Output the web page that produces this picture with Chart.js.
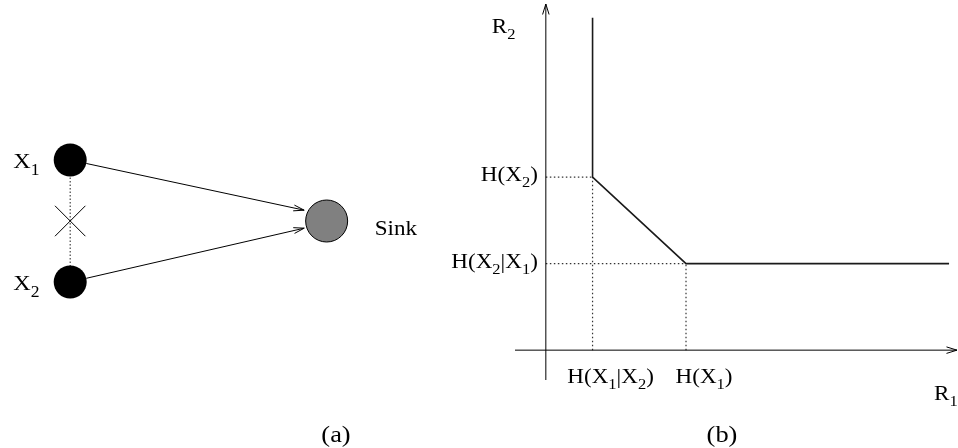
<!DOCTYPE html>
<html>
<head>
<meta charset="utf-8">
<script src="https://cdn.jsdelivr.net/npm/chart.js@4/dist/chart.umd.min.js"></script>
<style>
  html, body { margin: 0; padding: 0; background: #fff; }
  #wrap { position: relative; width: 958px; height: 448px; }
  #wrap canvas { position: absolute; left: 0; top: 0; }
</style>
</head>
<body>
<div id="wrap">
  <canvas id="netChart" width="958" height="448"></canvas>
  <canvas id="rateChart" width="958" height="448"></canvas>
</div>
<script>
// ---- panel (a): two correlated sources sending to one sink ----
var sourceNames = ['X_1', 'X_2'];
var sourceX = [0, 0];
var sourceY = [1, -1];
var sinkName = 'Sink';
var sinkX = [1];
var sinkY = [0];

// ---- panel (b): Slepian-Wolf rate region ----
var rateTickX = [1, 3];                       // H(X1|X2), H(X1)
var rateTickXLabels = ['H(X_1|X_2)', 'H(X_1)'];
var rateTickY = [2, 4];                       // H(X2|X1), H(X2)
var rateTickYLabels = ['H(X_2|X_1)', 'H(X_2)'];
var rateAxisX = [-0.66, 8.8];
var rateAxisY = [-0.69, 8.0];
var regionEnd = [8.63, 7.68];                 // boundary stops here on R1 / R2

var FONT = '"Liberation Serif", "Times New Roman", serif';
var STRETCH = 1.1;   // the original lettering is a bit wide

// text with single-char subscripts written as _1
function drawSub(ctx, txt, x, y, align, size) {
  var parts = txt.split(/(_\w)/).filter(Boolean);
  var big = size + 'px ' + FONT;
  var small = Math.round(size * 0.72) + 'px ' + FONT;
  var w = 0;
  parts.forEach(function(p) {
    var sub = p[0] === '_';
    ctx.font = sub ? small : big;
    w += ctx.measureText(sub ? p.slice(1) : p).width;
  });
  var left = align === 'right' ? x - w * STRETCH : align === 'center' ? x - w * STRETCH / 2 : x;
  ctx.save();
  ctx.translate(left, y);
  ctx.scale(STRETCH, 1);
  ctx.fillStyle = '#000';
  ctx.textAlign = 'left';
  ctx.textBaseline = 'alphabetic';
  var cx = 0;
  parts.forEach(function(p) {
    var sub = p[0] === '_';
    var t = sub ? p.slice(1) : p;
    ctx.font = sub ? small : big;
    ctx.fillText(t, cx, sub ? size * 0.3 : 0);
    cx += ctx.measureText(t).width;
  });
  ctx.restore();
}

function arrowHead(ctx, x0, y0, x1, y1, len, half) {
  var a = Math.atan2(y1 - y0, x1 - x0);
  ctx.beginPath();
  ctx.moveTo(x1 - len * Math.cos(a - half), y1 - len * Math.sin(a - half));
  ctx.lineTo(x1, y1);
  ctx.lineTo(x1 - len * Math.cos(a + half), y1 - len * Math.sin(a + half));
  ctx.stroke();
}

var baseOpts = {
  responsive: false,
  animation: false,
  events: [],
  plugins: { legend: { display: false }, tooltip: { enabled: false } }
};

// ---------------- panel (a) ----------------
var srcR = 16.5, sinkR = 21;
var netPlugin = {
  id: 'netPlugin',
  afterDatasetsDraw: function(chart) {
    var ctx = chart.ctx, xs = chart.scales.x, ys = chart.scales.y;
    var tx = xs.getPixelForValue(sinkX[0]), ty = ys.getPixelForValue(sinkY[0]);
    ctx.save();
    ctx.strokeStyle = '#000';
    ctx.lineWidth = 1;
    sourceX.forEach(function(v, i) {
      var sx = xs.getPixelForValue(v), sy = ys.getPixelForValue(sourceY[i]);
      var aim = ty - (sourceY[i] > 0 ? 6 : -2);
      var d = Math.hypot(tx - sx, aim - sy), ux = (tx - sx) / d, uy = (aim - sy) / d;
      var x0 = sx + ux * srcR, y0 = sy + uy * srcR;
      var x1 = tx - ux * (sinkR + 2), y1 = aim - uy * (sinkR + 2);
      ctx.beginPath();
      ctx.moveTo(x0, y0);
      ctx.lineTo(x1, y1);
      ctx.stroke();
      arrowHead(ctx, x0, y0, x1, y1, 11, 0.27);
      drawSub(ctx, sourceNames[i], sx - 57, sy + 8, 'left', 22);
    });
    ctx.restore();
    drawSub(ctx, sinkName, tx + 48, ty + 14, 'left', 21);
    drawSub(ctx, '(a)', 336, 442, 'center', 24);
  }
};

new Chart(document.getElementById('netChart'), {
  type: 'scatter',
  data: {
    datasets: [
      {
        data: sourceX.map(function(v, i) { return { x: v, y: sourceY[i] }; }),
        pointRadius: srcR, pointBackgroundColor: '#000', pointBorderColor: '#000', pointBorderWidth: 0
      },
      {
        data: sinkX.map(function(v, i) { return { x: v, y: sinkY[i] }; }),
        pointRadius: sinkR, pointBackgroundColor: '#808080', pointBorderColor: '#000', pointBorderWidth: 1
      },
      {
        data: [{ x: (sourceX[0] + sourceX[1]) / 2, y: (sourceY[0] + sourceY[1]) / 2 }],
        pointStyle: 'crossRot', pointRadius: 21.5, pointBorderColor: '#000', pointBorderWidth: 1
      },
      {
        data: sourceX.map(function(v, i) { return { x: v, y: sourceY[i] }; }),
        showLine: true, pointRadius: 0, borderColor: '#444', borderWidth: 1.2, borderDash: [1.5, 2]
      }
    ]
  },
  options: Object.assign({}, baseOpts, {
    layout: { padding: { left: 20, right: 518, top: 100, bottom: 108 } },
    scales: {
      x: { type: 'linear', display: false, min: -0.186, max: 1.442 },
      y: { type: 'linear', display: false, min: -1.951, max: 1.984 }
    }
  }),
  plugins: [netPlugin]
});

// ---------------- panel (b) ----------------
function seg(x0, y0, x1, y1) { return [{ x: x0, y: y0 }, { x: x1, y: y1 }]; }
var dotted = { showLine: true, pointRadius: 0, borderColor: '#333', borderWidth: 1.2, borderDash: [1.5, 2.5], clip: false };
var solid = { showLine: true, pointRadius: 0, borderColor: '#000', borderWidth: 1, clip: false };

var ratePlugin = {
  id: 'ratePlugin',
  afterDatasetsDraw: function(chart) {
    var ctx = chart.ctx, xs = chart.scales.x, ys = chart.scales.y;
    var ox = xs.getPixelForValue(0), oy = ys.getPixelForValue(0);
    ctx.save();
    ctx.strokeStyle = '#000';
    ctx.lineWidth = 1;
    arrowHead(ctx, ox, oy, ox, ys.getPixelForValue(rateAxisY[1]), 11, 0.3);
    arrowHead(ctx, ox, oy, xs.getPixelForValue(rateAxisX[1]), oy, 11, 0.3);
    ctx.restore();
    rateTickX.forEach(function(v, i) {
      drawSub(ctx, rateTickXLabels[i], xs.getPixelForValue(v) + 18, oy + 33, 'center', 21);
    });
    rateTickY.forEach(function(v, i) {
      drawSub(ctx, rateTickYLabels[i], ox - 8, ys.getPixelForValue(v) + 4, 'right', 21);
    });
    drawSub(ctx, 'R_1', xs.getPixelForValue(rateAxisX[1]) - 23, oy + 50, 'left', 21);
    drawSub(ctx, 'R_2', ox - 54, ys.getPixelForValue(rateAxisY[1]) + 29, 'left', 21);
    drawSub(ctx, '(b)', 722, 442, 'center', 24);
  }
};

new Chart(document.getElementById('rateChart'), {
  type: 'scatter',
  data: {
    datasets: [
      Object.assign({}, solid, {
        borderWidth: 1.6, borderColor: '#1a1a1a',
        data: [
          { x: rateTickX[0], y: regionEnd[1] },
          { x: rateTickX[0], y: rateTickY[1] },
          { x: rateTickX[1], y: rateTickY[0] },
          { x: regionEnd[0], y: rateTickY[0] }
        ]
      }),
      Object.assign({}, solid, { data: seg(rateAxisX[0], 0, rateAxisX[1], 0) }),
      Object.assign({}, solid, { data: seg(0, rateAxisY[0], 0, rateAxisY[1]) }),
      Object.assign({}, dotted, { data: seg(0, rateTickY[1], rateTickX[0], rateTickY[1]) }),
      Object.assign({}, dotted, { data: seg(0, rateTickY[0], rateTickX[1], rateTickY[0]) }),
      Object.assign({}, dotted, { data: seg(rateTickX[0], 0, rateTickX[0], rateTickY[1]) }),
      Object.assign({}, dotted, { data: seg(rateTickX[1], 0, rateTickX[1], rateTickY[0]) })
    ]
  },
  options: Object.assign({}, baseOpts, {
    layout: { padding: { left: 515, right: 1, top: 4, bottom: 68 } },
    scales: {
      x: { type: 'linear', display: false, min: rateAxisX[0], max: rateAxisX[1] },
      y: { type: 'linear', display: false, min: rateAxisY[0], max: rateAxisY[1] }
    }
  }),
  plugins: [ratePlugin]
});
</script>
</body>
</html>
